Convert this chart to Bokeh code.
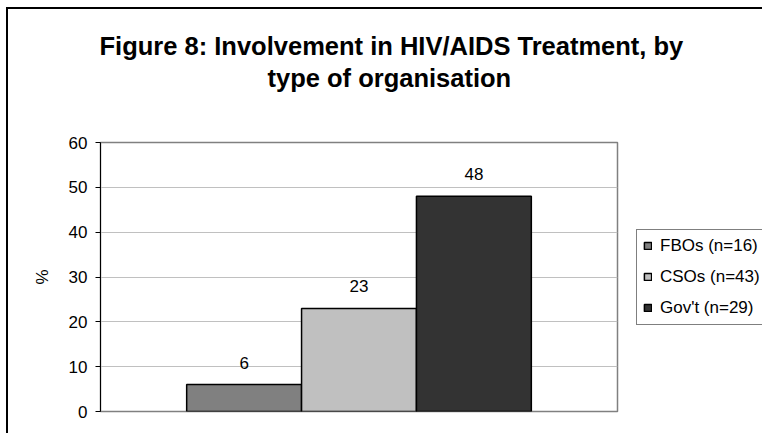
from bokeh.plotting import figure
from bokeh.models import ColumnDataSource, Range1d, FixedTicker, Legend, LegendItem, Title
from bokeh.embed import file_html
from bokeh.resources import INLINE
from bokeh.core.properties import value

# ---- data ----
title_lines = ["Figure 8: Involvement in HIV/AIDS Treatment, by", "type of organisation"]
series = ["FBOs (n=16)", "CSOs (n=43)", "Gov't (n=29)"]
values = [6, 23, 48]
colors = ["#808080", "#c0c0c0", "#333333"]
y_ticks = [0, 10, 20, 30, 40, 50, 60]
y_label = "%"

FONT = "Liberation Sans"

n = len(series)
xpos = [1.25 + i for i in range(n)]
src = ColumnDataSource(dict(x=xpos, top=values, color=colors, name=series,
                            lab=[str(v) for v in values]))

p = figure(frame_width=517, frame_height=269, x_range=Range1d(0, 4.5), y_range=Range1d(0, 60),
           output_backend="svg", toolbar_location=None,
           min_border_left=92, min_border_right=10, min_border_top=133, min_border_bottom=22)
p.styles = {"border-left": "2px solid black", "border-top": "2px solid black",
            "margin-left": "6px", "margin-top": "7px"}
p.background_fill_color = "white"
p.border_fill_color = "white"
p.outline_line_color = "#808080"
p.outline_line_width = 1.5

r = p.vbar(x="x", top="top", width=1.0, bottom=0, source=src, fill_color="color",
           line_color="black", line_width=1.5)

p.text(x="x", y="top", text="lab", source=src, y_offset=-16, text_align="center",
       text_baseline="bottom", text_font=value(FONT), text_font_size="17px", text_color="black")

p.xaxis.visible = False
p.xgrid.visible = False
p.ygrid.grid_line_color = "#c0c0c0"
p.ygrid.grid_line_width = 1

ax = p.yaxis[0]
ax.ticker = FixedTicker(ticks=y_ticks)
ax.axis_line_color = "black"
ax.axis_line_width = 1
ax.major_tick_line_color = "black"
ax.major_tick_out = 5
ax.major_tick_in = 0
ax.minor_tick_line_color = None
ax.major_label_text_font = FONT
ax.major_label_text_font_size = "17px"
ax.major_label_text_color = "black"
ax.major_label_standoff = 8
ax.axis_label = y_label
ax.axis_label_text_font = FONT
ax.axis_label_text_font_size = "17px"
ax.axis_label_text_font_style = "normal"
ax.axis_label_text_color = "black"
ax.axis_label_standoff = 14

items = [LegendItem(label=series[i], renderers=[r], index=i) for i in range(n)]
legend = Legend(items=items, location="center_left", orientation="vertical",
                label_text_font=FONT, label_text_font_size="17px", label_text_color="black",
                glyph_width=9, glyph_height=9, label_standoff=8, label_height=20,
                spacing=11, padding=6, margin=19,
                border_line_color="black", border_line_width=1,
                background_fill_color="white", background_fill_alpha=1)
p.add_layout(legend, "right")

# title: line 1 outermost, line 2 below it, spacer nearest the plot area
p.title.text = title_lines[0]
p.title.align = "left"
p.title.offset = -1
p.title.text_font = FONT
p.title.text_font_size = "25.5px"
p.title.text_font_style = "bold"
p.title.text_color = "black"
p.title.standoff = 0

p.add_layout(Title(text=" ", text_font_size="10px", standoff=36), "above")
p.add_layout(Title(text=title_lines[1], align="left", offset=167, text_font=FONT,
                   text_font_size="25.5px", text_font_style="bold", text_color="black",
                   standoff=4), "above")

open("out.html", "w").write(file_html(p, INLINE))
